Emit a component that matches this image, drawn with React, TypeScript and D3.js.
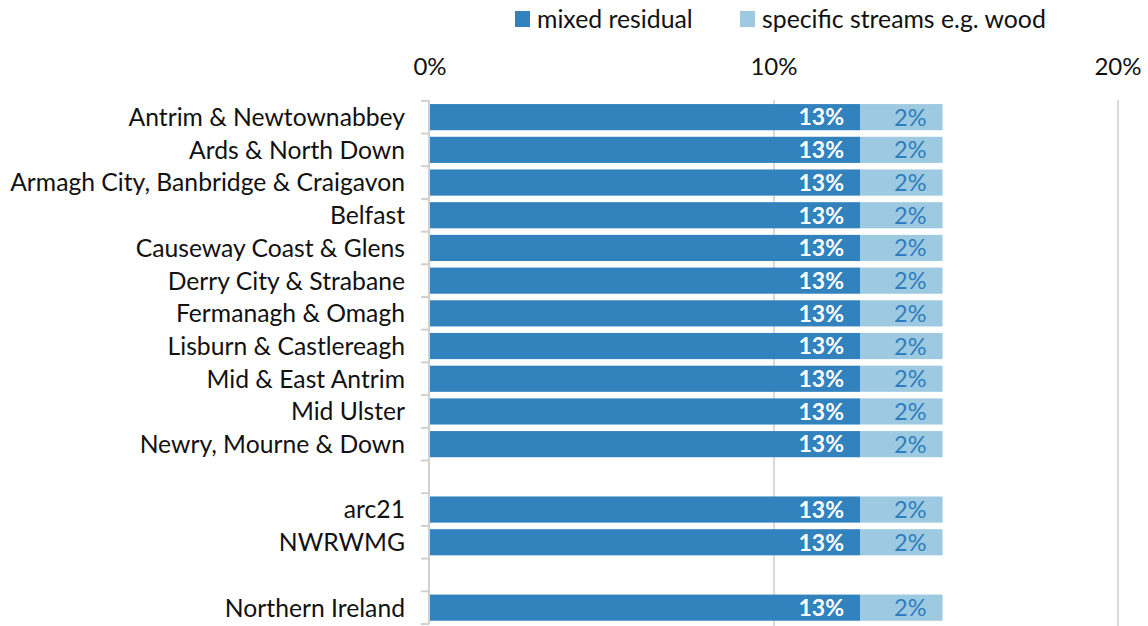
import React from "react";
import * as d3 from "d3";

const categories = [
  "Antrim & Newtownabbey",
  "Ards & North Down",
  "Armagh City, Banbridge & Craigavon",
  "Belfast",
  "Causeway Coast & Glens",
  "Derry City & Strabane",
  "Fermanagh & Omagh",
  "Lisburn & Castlereagh",
  "Mid & East Antrim",
  "Mid Ulster",
  "Newry, Mourne & Down",
  "__gap1",
  "arc21",
  "NWRWMG",
  "__gap2",
  "Northern Ireland",
];
const mixedResidual = [12.5, 12.5, 12.5, 12.5, 12.5, 12.5, 12.5, 12.5, 12.5, 12.5, 12.5, null, 12.5, 12.5, null, 12.5];
const specificStreams = [2.4, 2.4, 2.4, 2.4, 2.4, 2.4, 2.4, 2.4, 2.4, 2.4, 2.4, null, 2.4, 2.4, null, 2.4];
const seriesNames = ["mixed residual", "specific streams e.g. wood"];
const xTicks = [0, 10, 20];

const C_DARK = "#3182bd";
const C_LIGHT = "#9ecae1";
const FONT = "Lato, 'Open Sans', sans-serif";

export default function App() {
  const W = 1148, H = 626;
  const x = d3.scaleLinear().domain([0, 20]).range([430, 1118]);
  const y = d3.scaleBand<string>().domain(categories).range([100.8, 624]).paddingInner(0.2).paddingOuter(0.1);
  const step = y.step();
  const bw = y.bandwidth();
  const boundaries = d3.range(categories.length + 1).map((i) => 100.8 + i * step);
  const fmt = (v: number) => `${Math.round(v)}%`;

  return (
    <svg width={W} height={H} style={{ position: "absolute", left: 0, top: 0, background: "#fff" }} fontFamily={FONT}>
      {/* legend */}
      <g>
        <rect x={515} y={11} width={15} height={16} fill={C_DARK} />
        <text x={537} y={19} dy="0.35em" fontSize={24.8} fill="#111">{seriesNames[0]}</text>
        <rect x={740} y={11} width={15} height={16} fill={C_LIGHT} />
        <text x={762} y={19} dy="0.35em" fontSize={24.8} fill="#111">{seriesNames[1]}</text>
      </g>
      {/* x tick labels */}
      {xTicks.map((t) => (
        <text key={t} x={x(t)} y={67} dy="0.35em" textAnchor="middle" fontSize={24} fill="#111">{`${t}%`}</text>
      ))}
      {/* gridlines */}
      {xTicks.filter((t) => t > 0).map((t) => (
        <line key={t} x1={x(t)} x2={x(t)} y1={100} y2={626} stroke="#d9d9d9" strokeWidth={2} />
      ))}
      {/* bars */}
      {categories.map((c, i) => {
        const m = mixedResidual[i];
        const s = specificStreams[i];
        if (m == null || s == null) return null;
        const y0 = y(c)!;
        const cy = y0 + bw / 2;
        return (
          <g key={c}>
            <rect x={x(0)} y={y0} width={x(m) - x(0)} height={bw} fill={C_DARK} />
            <rect x={x(m)} y={y0} width={x(m + s) - x(m)} height={bw} fill={C_LIGHT} />
            <text x={x(m) - 16} y={cy} dy="0.36em" textAnchor="end" fontSize={23} fontWeight="bold" fill="#fff">{fmt(m)}</text>
            <text x={x(m + s) - 16} y={cy} dy="0.36em" textAnchor="end" fontSize={23.5} fill="#2e7ebf">{fmt(s)}</text>
          </g>
        );
      })}
      {/* axis line & ticks */}
      <line x1={429} x2={429} y1={boundaries[0]} y2={boundaries[boundaries.length - 1]} stroke="#d0d0d0" strokeWidth={2} />
      {boundaries.map((b, i) => (
        <line key={i} x1={421} x2={429} y1={b} y2={b} stroke="#d0d0d0" strokeWidth={2} />
      ))}
      {/* category labels */}
      {categories.map((c) =>
        c.startsWith("__") ? null : (
          <text key={c} x={405} y={y(c)! + bw / 2} dy="0.36em" textAnchor="end" fontSize={24.7} fill="#111">{c}</text>
        )
      )}
    </svg>
  );
}
